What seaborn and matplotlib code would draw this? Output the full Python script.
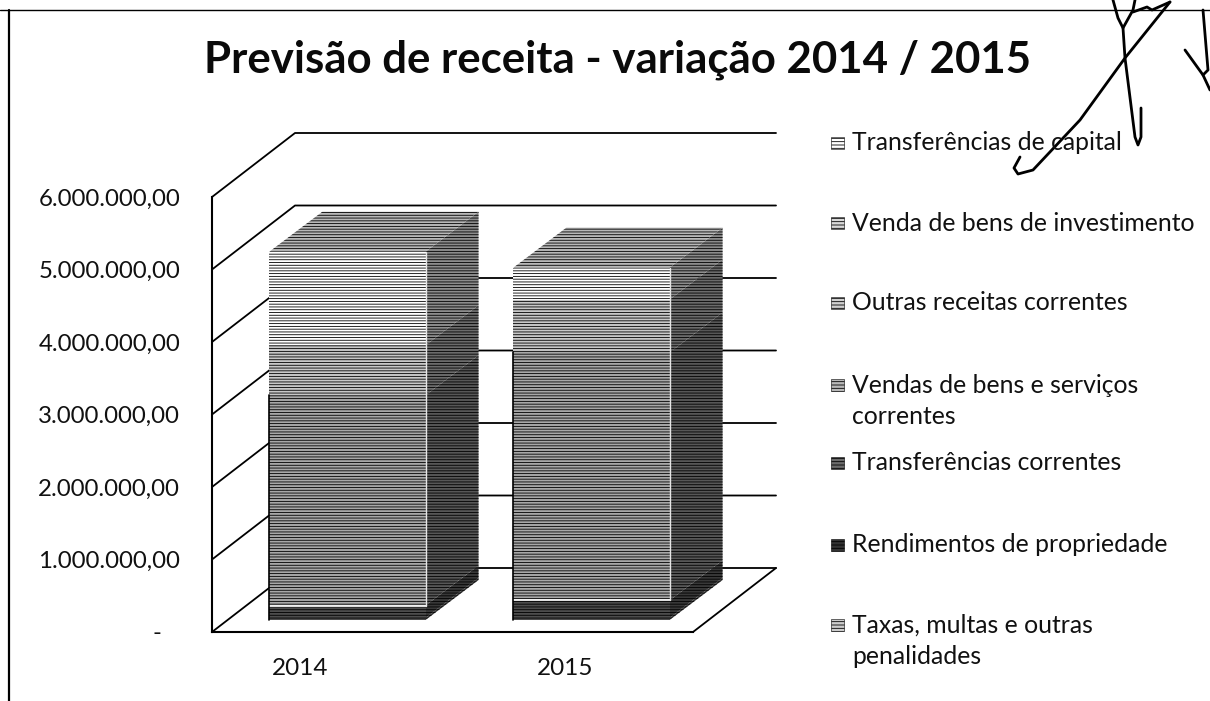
# Stacked revenue forecast chart, pseudo 3D columns like a scanned spreadsheet chart
import numpy as np
import pandas as pd
import matplotlib
matplotlib.use("Agg")
import matplotlib.pyplot as plt
from matplotlib.lines import Line2D
from matplotlib.patches import Rectangle
import seaborn as sns

# Data
years = ["2014", "2015"]
series = [
    "Taxas, multas e outras\npenalidades",
    "Rendimentos de propriedade",
    "Transferências correntes",
    "Vendas de bens e serviços\ncorrentes",
    "Outras receitas correntes",
    "Venda de bens de investimento",
    "Transferências de capital",
]
taxas = [30000, 30000]
rendimentos = [170000, 240000]
transf_correntes = [2900000, 3420000]
vendas_correntes = [690000, 730000]
outras = [1290000, 440000]
venda_investimento = [0, 0]
transf_capital = [0, 0]
y_ticks = [0, 1000000, 2000000, 3000000, 4000000, 5000000, 6000000]
y_labels = ["-\u00a0\u00a0\u00a0", "1.000.000,00", "2.000.000,00", "3.000.000,00",
            "4.000.000,00", "5.000.000,00", "6.000.000,00"]

values = [taxas, rendimentos, transf_correntes, vendas_correntes, outras,
          venda_investimento, transf_capital]

# Look of each series: front tone, side tone, hatch
front_tones = ["0.30", "0.30", "0.66", "0.78", "1.0", "0.85", "0.95"]
side_tones = ["0.22", "0.22", "0.34", "0.42", "0.55", "0.45", "0.50"]
legend_tones = ["0.80", "0.20", "0.42", "0.72", "0.82", "0.85", "1.0"]
HATCH = "------"

W, H = 1210, 701
# pseudo 3D offsets in data units
WALL_DX, WALL_DY = 83 / 244, 64 / 72.5 * 1e6
BAR_DX, BAR_DY = 53 / 244, 40 / 72.5 * 1e6
BAR_LIFT = 12 / 72.5 * 1e6
BAR_WIDTH = 0.64


def fx(px):
    return px / W


def fy(py):
    return 1 - py / H


sns.set_theme(style="white")
plt.rcParams["font.family"] = ["Lato", "DejaVu Sans"]
plt.rcParams["hatch.linewidth"] = 0.6

fig = plt.figure(figsize=(W / 100, H / 100), dpi=100, facecolor="white")
ax = fig.add_axes([fx(212), fy(632), fx(693) - fx(212), fy(197) - fy(632)])
ax.patch.set_alpha(0)

# Back wall gridlines and floor
for tick in y_ticks:
    ax.plot([-0.555, -0.555 + WALL_DX, 1.416 + WALL_DX],
            [tick, tick + WALL_DY, tick + WALL_DY],
            color="black", lw=1.3, clip_on=False, zorder=1)
ax.plot([1.416, 1.416 + WALL_DX], [0, WALL_DY], color="black", lw=1.3, clip_on=False, zorder=1)

# Stacked columns, one barplot per series
df = pd.DataFrame(dict(zip(series, values)), index=years).rename_axis("ano").reset_index()
cum = np.full(len(years), BAR_LIFT)
for name, front, side in zip(series, front_tones, side_tones):
    height = df[name].to_numpy(dtype=float)
    sns.barplot(data=df, x="ano", y=name, ax=ax, order=years, color=front, saturation=1,
                width=BAR_WIDTH, bottom=cum, hatch=HATCH, edgecolor="black", linewidth=0,
                zorder=3)
    # side face follows the same stack
    for i in range(len(years)):
        if height[i] > 0:
            xr = i + BAR_WIDTH / 2
            ax.fill([xr, xr + BAR_DX, xr + BAR_DX, xr],
                    [cum[i], cum[i] + BAR_DY, cum[i] + height[i] + BAR_DY, cum[i] + height[i]],
                    facecolor=side, hatch=HATCH, edgecolor="black", linewidth=0,
                    clip_on=False, zorder=2)
    cum = cum + height

# top faces, the pale seam above the bottom band and the column edges
seam = BAR_LIFT + np.array(taxas) + np.array(rendimentos)
dark_top = seam + np.array(transf_correntes)
for i in range(len(years)):
    xl, xr = i - BAR_WIDTH / 2, i + BAR_WIDTH / 2
    ax.fill([xl, xr, xr + BAR_DX, xl + BAR_DX],
            [cum[i], cum[i], cum[i] + BAR_DY, cum[i] + BAR_DY],
            facecolor="0.72", hatch=HATCH, edgecolor="black", linewidth=0,
            clip_on=False, zorder=2)
    ax.plot([xl, xr], [seam[i], seam[i]], color="white", lw=1.2, zorder=4)
    ax.plot([xl, xl], [BAR_LIFT, dark_top[i]], color="black", lw=1.2, zorder=4)
    ax.plot([xr, xr], [seam[i], cum[i]], color="0.9", lw=1.0, zorder=4)

ax.set_xlim(-0.555, 1.416)
ax.set_ylim(0, 6000000)
ax.set_yticks(y_ticks)
ax.set_yticklabels(y_labels)
ax.set_xticks([-0.195, 0.891])
ax.set_xticklabels(years)
ax.set_xlabel("")
ax.set_ylabel("")
ax.tick_params(axis="y", length=0, pad=23, labelsize=17.3, labelcolor="#111111")
ax.tick_params(axis="x", length=0, pad=19, labelsize=17.5, labelcolor="#111111")
sns.despine(ax=ax, top=True, right=True)
for side in ["left", "bottom"]:
    ax.spines[side].set_color("black")
    ax.spines[side].set_linewidth(1.5)

fig.text(fx(617), fy(60), "Previsão de receita - variação 2014 / 2015", ha="center", va="center",
         fontsize=31.5, fontweight="bold", color="#0a0a0a")

# Legend, evenly slotted, top entry first
slot_centres = [641, 545, 463, 401, 303, 223, 143]
marker_rows = [625, 545, 463, 385, 303, 223, 143]
for name, tone, slot, row in zip(series, legend_tones, slot_centres, marker_rows):
    fig.add_artist(Rectangle((fx(831), fy(row + 6)), 13 / W, 12 / H, transform=fig.transFigure,
                             facecolor=tone, hatch="-----", edgecolor="black", linewidth=0.4))
    fig.text(fx(852), fy(slot), name, ha="left", va="center", fontsize=17.8, color="#111111",
             linespacing=1.47)

# Page edges of the scan
fig.add_artist(Line2D([fx(0), fx(1210)], [fy(10), fy(10)], color="black", lw=1.0))
fig.add_artist(Line2D([fx(9), fx(9)], [fy(10), fy(701)], color="black", lw=1.6))

# Handwritten signature strokes
strokes = [
    [(1170, 2), (1125, 58), (1080, 120), (1033, 170), (1018, 174), (1014, 168), (1020, 157)],
    [(1113, 0), (1118, 18), (1123, 28), (1125, 58), (1135, 137), (1138, 145), (1141, 137), (1141, 108)],
    [(1123, 28), (1133, 10), (1135, 0)],
    [(1133, 12), (1147, 7), (1152, 10), (1170, 2)],
    [(1185, 50), (1203, 75), (1210, 90)],
    [(1203, 10), (1208, 70), (1203, 75)],
]
for stroke in strokes:
    xs = [fx(p[0]) for p in stroke]
    ys = [fy(p[1]) for p in stroke]
    fig.add_artist(Line2D(xs, ys, color="black", lw=2.0))

fig.savefig("out.png", dpi=100)
